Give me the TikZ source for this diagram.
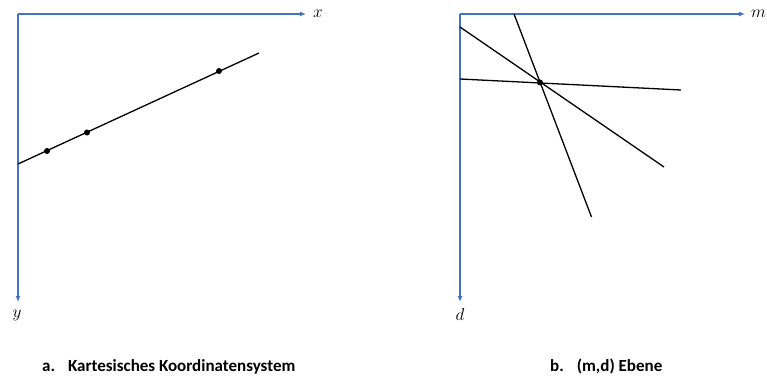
\documentclass[tikz,border=0pt]{standalone}
\usepackage{fontspec}
\newfontfamily\capfont{Carlito}
\usetikzlibrary{arrows.meta}
\definecolor{axisblue}{RGB}{68,114,196}
\tikzset{
  axis/.style={draw=axisblue,line width=1.6pt,-{Latex[length=6pt,width=5pt]}},
  graphline/.style={draw=black,line width=1.3pt},
  dot/.style={circle,fill=black,inner sep=0pt,minimum size=6pt},
  axlabel/.style={inner sep=0pt,font=\fontsize{17}{20}\selectfont},
  caption/.style={inner sep=0pt,anchor=base west,font=\capfont\bfseries\fontsize{17}{20}\selectfont}
}
\begin{document}
\begin{tikzpicture}[x=1pt,y=-1pt]
\useasboundingbox (0,0) rectangle (767,377);
% left panel
\coordinate (o1) at (18,14);
\coordinate (xe) at (306,14);
\coordinate (ye) at (18,302);
\draw[axis] (o1) -- (xe);
\draw[axis] (o1) -- (ye);
\node[axlabel] (xl) at (318,14) {$x$};
\node[axlabel] (yl) at (17,315) {$y$};
\coordinate (la) at (18,164);
\coordinate (lb) at (259,53);
\draw[graphline] (la) -- (lb);
\node[dot] (p1) at (47,151) {};
\node[dot] (p2) at (87,132.5) {};
\node[dot] (p3) at (219,71) {};
% right panel
\coordinate (o2) at (460,14);
\coordinate (me) at (745,14);
\coordinate (de) at (460,302);
\draw[axis] (o2) -- (me);
\draw[axis] (o2) -- (de);
\node[axlabel,anchor=east] (ml) at (766,14) {$m$};
\node[axlabel] (dl) at (460,314) {$d$};
\coordinate (a1) at (514,14);
\coordinate (a2) at (591.5,217);
\coordinate (b1) at (460,27);
\coordinate (b2) at (664,167);
\coordinate (c1) at (460,79);
\coordinate (c2) at (681,90);
\draw[graphline] (a1) -- (a2);
\draw[graphline] (b1) -- (b2);
\draw[graphline] (c1) -- (c2);
\node[dot] (q) at (540,82.5) {};
% captions
\node[caption] (ca) at (42,371) {a.\hspace{13pt}Kartesisches Koordinatensystem};
\node[caption] (cb) at (550,371) {b.\hspace{13pt}(m,d) Ebene};
\end{tikzpicture}
\end{document}
